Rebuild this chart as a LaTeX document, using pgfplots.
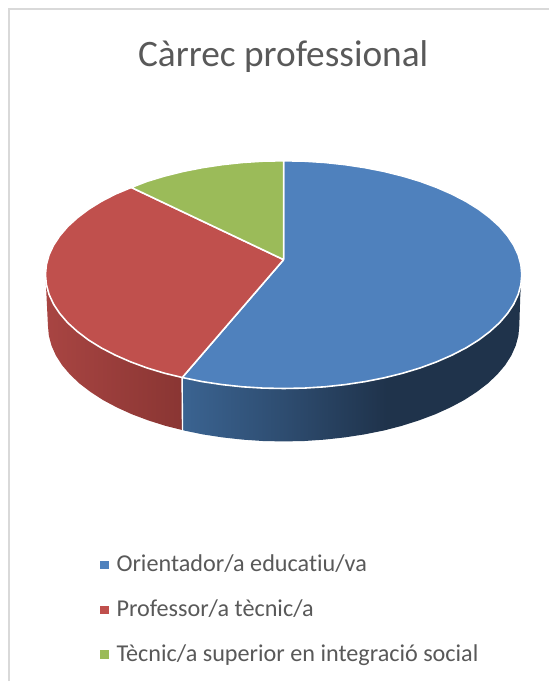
\documentclass[border=0pt]{standalone}
\usepackage{fontspec}
\setmainfont[Ligatures=CommonOff]{Carlito}
\usepackage{pgfplots}
\pgfplotsset{compat=1.18}
\definecolor{cblue}{HTML}{4F81BD}
\definecolor{cred}{HTML}{C0504D}
\definecolor{cgreen}{HTML}{9BBB59}
\definecolor{ctext}{HTML}{595959}
\definecolor{cframe}{HTML}{D9D9D9}
% side walls: 25bp..75bp is the width of the wall
\pgfdeclarehorizontalshading{redwall}{100bp}{rgb(0bp)=(0.66,0.27,0.26); rgb(25bp)=(0.66,0.27,0.26); rgb(75bp)=(0.54,0.21,0.20); rgb(100bp)=(0.54,0.21,0.20)}
\pgfdeclarehorizontalshading{bluewall}{100bp}{rgb(0bp)=(0.23,0.39,0.57); rgb(25bp)=(0.23,0.39,0.57); rgb(40bp)=(0.18,0.30,0.44); rgb(55bp)=(0.122,0.20,0.295); rgb(100bp)=(0.122,0.20,0.295)}
\begin{document}
\begin{tikzpicture}
\begin{axis}[
    scale only axis, width=550bp, height=682bp,
    xmin=0, xmax=550, ymin=0, ymax=682,
    y dir=reverse, hide axis, clip=false,
  ]
  % page and frame
  \addplot[fill=white, draw=none] coordinates {(0,0) (550,0) (550,682) (0,682) (0,0)};
  \addplot[cframe, line width=1.8bp] coordinates {(9,682) (9,9) (550,9)};

  % red wall
  \addplot[shading=redwall, draw=none] coordinates {
    (45.5,275) (46.5,295) (48,326) (48.9,336.1) (51.6,346.1) (56,356) (62.2,365.7)
    (70.1,375) (79.6,384) (90.7,392.5) (103.2,400.6) (117.1,408) (132.3,414.9)
    (148.6,421) (166,426.5) (182,430.5) (182,275) (45.5,275)};
  % blue wall
  \addplot[shading=bluewall, draw=none] coordinates {
    (182,275) (182,430.5) (184.3,431.1) (203.3,435) (222.9,438) (243,440.2) (263.4,441.6)
    (284,442) (304.6,441.6) (325,440.2) (345.1,438) (364.7,435) (384.3,431.1) (402,426.5)
    (419.4,421) (435.7,414.9) (450.9,408) (464.8,400.6) (477.3,392.5) (488.4,384)
    (497.9,375) (505.8,365.7) (512,356) (516.4,346.1) (519.1,336.1) (520,326) (521,295)
    (522.5,275) (182,275)};
  \addplot[white, line width=1.4bp] coordinates {(182.3,378) (182.8,431.5)};

  % top of the pie
  \addplot[fill=cblue, draw=white, line width=1.6bp, line join=round] coordinates {
    (284,260) (284,161) (304.8,161.4) (325.4,162.7) (345.7,164.9) (365.6,167.9) (384.8,171.7)
    (403.3,176.3) (420.8,181.6) (437.3,187.7) (452.6,194.4) (466.7,201.7) (479.4,209.6)
    (490.5,218) (500.2,226.8) (508.1,236) (514.4,245.5) (518.9,255.2) (521.6,265.1)
    (522.5,275) (521.6,284.9) (518.9,294.8) (514.4,304.5) (508.1,314) (500.2,323.2)
    (490.5,332) (479.4,340.4) (466.7,348.3) (452.6,355.6) (437.3,362.3) (420.8,368.4)
    (403.3,373.7) (384.8,378.3) (365.6,382.1) (345.7,385.1) (325.4,387.3) (304.8,388.6)
    (284,389) (263.2,388.6) (242.6,387.3) (222.3,385.1) (202.4,382.1) (182.5,378) (284,260)};
  \addplot[fill=cred, draw=white, line width=1.6bp, line join=round] coordinates {
    (284,260) (182.5,378) (164.7,373.7) (147.2,368.4) (130.7,362.3) (115.4,355.6) (101.3,348.3)
    (88.6,340.4) (77.5,332) (67.8,323.2) (59.9,314) (53.6,304.5) (49.1,294.8) (46.4,284.9)
    (45.5,275) (46.4,265.1) (49.1,255.2) (53.6,245.5) (59.9,236) (67.8,226.8) (77.5,218)
    (88.6,209.6) (101.3,201.7) (115.4,194.4) (131.5,187.7) (284,260)};
  \addplot[fill=cgreen, draw=white, line width=1.6bp, line join=round] coordinates {
    (284,260) (131.5,187.7) (147.2,181.6) (164.7,176.3) (183.2,171.7) (202.4,167.9) (222.3,164.9)
    (242.6,162.7) (263.2,161.4) (284,161) (284,260)};

  % legend
  \addplot[only marks, mark=square*, mark size=3.7bp, cblue] coordinates {(104.5,565.2)};
  \addplot[only marks, mark=square*, mark size=3.7bp, cred] coordinates {(104.5,610.2)};
  \addplot[only marks, mark=square*, mark size=3.7bp, cgreen] coordinates {(104.5,655.2)};
  \begin{scope}[every node/.style={text=ctext, font=\fontsize{24.3}{29}\selectfont, anchor=base west, inner sep=0pt}]
  \node at (axis cs:116.5,572) {Orientador/a educatiu/va};
  \node at (axis cs:116.5,617) {Professor/a tècnic/a};
  \node at (axis cs:116.5,662) {Tècnic/a superior en integració social};
  \end{scope}
  \node[text=ctext, font=\fontsize{37.5}{45}\selectfont, anchor=base] at (axis cs:283.5,66.5) {Càrrec professional};
\end{axis}
\end{tikzpicture}
\end{document}
